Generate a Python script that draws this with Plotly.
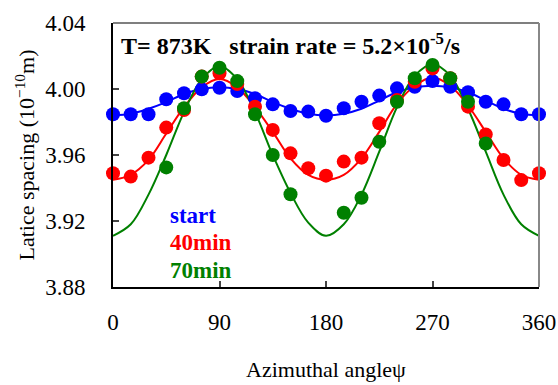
import plotly.graph_objects as go

# Measured data points (azimuthal angle, lattice spacing)
angle_pts = [0, 15, 30, 45, 60, 75, 90, 105, 120, 135, 150, 165, 180,
             195, 210, 225, 240, 255, 270, 285, 300, 315, 330, 345, 360]
start_pts = [3.9847, 3.9847, 3.9847, 3.9938, 3.9974, 3.9998, 4.0008, 3.9988, 3.9944,
             3.9907, 3.9867, 3.9863, 3.9838, 3.9883, 3.9923, 3.9960, 4.0004, 4.0014,
             4.0048, 4.0014, 3.9980, 3.9923, 3.9907, 3.9847, 3.9847]
min40_pts = [3.9489, 3.9469, 3.9584, 3.9766, 3.9873, 4.0075, 4.0095, 4.0030, 3.9893,
             3.9752, 3.9610, 3.9520, 3.9475, 3.9560, 3.9584, 3.9792, 3.9933, 4.0044,
             4.0125, 4.0065, 3.9893, 3.9725, 3.9570, 3.9448, 3.9489]
angle_g = [45, 60, 75, 90, 105, 120, 135, 150, 195, 210, 225, 240, 255, 270, 285, 300, 315]
min70_pts = [3.9525, 3.9883, 4.0075, 4.0129, 4.0048, 3.9847, 3.9600, 3.9362, 3.9250,
             3.9341, 3.9680, 3.9923, 4.0065, 4.0145, 4.0065, 3.9923, 3.9670]

# Fitted curves
angle_fit = [0, 15, 30, 45, 60, 75, 90, 105, 120, 135, 150, 165, 180,
             195, 210, 225, 240, 255, 270, 285, 300, 315, 330, 345, 360]
start_fit = [3.984, 3.985, 3.988, 3.992, 3.997, 4.000, 4.001, 4.000, 3.997, 3.992,
             3.988, 3.985, 3.984, 3.985, 3.988, 3.993, 3.998, 4.001, 4.002, 4.001,
             3.998, 3.993, 3.988, 3.985, 3.984]
min40_fit = [3.945, 3.948, 3.957, 3.973, 3.989, 4.001, 4.006, 4.001, 3.989, 3.974,
             3.958, 3.948, 3.945, 3.948, 3.958, 3.974, 3.991, 4.002, 4.007, 4.002,
             3.990, 3.974, 3.958, 3.948, 3.945]
min70_fit = [3.911, 3.918, 3.936, 3.960, 3.986, 4.006, 4.014, 4.006, 3.986, 3.960,
             3.937, 3.919, 3.911, 3.918, 3.936, 3.962, 3.989, 4.008, 4.015, 4.008,
             3.988, 3.962, 3.936, 3.918, 3.911]

x_ticks = [0, 90, 180, 270, 360]
y_ticks = [3.88, 3.92, 3.96, 4.00, 4.04]

BLUE = "#0000ff"
RED = "#ff0000"
GREEN = "#008000"
FONT = "Liberation Serif, Times New Roman, serif"

fig = go.Figure()
for xs, ys, c in [(angle_fit, start_fit, BLUE), (angle_fit, min40_fit, RED), (angle_fit, min70_fit, GREEN)]:
    fig.add_trace(go.Scatter(x=xs, y=ys, mode="lines", line=dict(color=c, width=2, shape="spline"),
                             showlegend=False, hoverinfo="skip"))
for xs, ys, c in [(angle_pts, start_pts, BLUE), (angle_pts, min40_pts, RED), (angle_g, min70_pts, GREEN)]:
    fig.add_trace(go.Scatter(x=xs, y=ys, mode="markers", marker=dict(color=c, size=14),
                             cliponaxis=False, showlegend=False))

fig.update_layout(
    width=558, height=385,
    margin=dict(l=113, r=19, t=23, b=98),
    paper_bgcolor="white", plot_bgcolor="white",
    font=dict(family=FONT, size=23, color="black"),
    xaxis=dict(range=[0, 360], tickvals=x_ticks, ticks="inside", ticklen=6, tickwidth=1.5,
               showline=True, linecolor="black", linewidth=2, showgrid=False, zeroline=False,
               ticklabelstandoff=13, automargin=False,
               title=dict(text="Azimuthal angleψ", font=dict(size=22), standoff=28)),
    yaxis=dict(range=[3.88, 4.04], tickvals=y_ticks, tickformat=".2f", ticks="inside", ticklen=6,
               tickwidth=1.5, showline=True, linecolor="black", linewidth=2, showgrid=False,
               zeroline=False, ticklabelstandoff=21, automargin=False,
               title=dict(text="Latice spacing (10<sup>−10</sup>m)", font=dict(size=22), standoff=4)),
    shapes=[
        dict(type="line", xref="paper", yref="paper", x0=0, x1=1, y0=1, y1=1,
             line=dict(color="#555555", width=1.5)),
        dict(type="line", xref="paper", yref="paper", x0=1, x1=1, y0=0, y1=1,
             line=dict(color="#888888", width=2)),
    ],
    annotations=[
        dict(xref="paper", yref="paper", x=0.015, y=0.985, xanchor="left", yanchor="top",
             text="<b>T= 873K   strain rate = 5.2×10<sup>-5</sup>/s</b>", showarrow=False,
             font=dict(size=24, color="black")),
        dict(xref="paper", yref="paper", x=0.13, y=0.269, xanchor="left", yanchor="middle",
             text="<b>start</b>", showarrow=False, font=dict(size=23, color=BLUE)),
        dict(xref="paper", yref="paper", x=0.13, y=0.170, xanchor="left", yanchor="middle",
             text="<b>40min</b>", showarrow=False, font=dict(size=23, color=RED)),
        dict(xref="paper", yref="paper", x=0.13, y=0.063, xanchor="left", yanchor="middle",
             text="<b>70min</b>", showarrow=False, font=dict(size=23, color=GREEN)),
    ],
)

fig.write_html("out.html", config={"displayModeBar": False},
               post_script="document.body.style.margin='0';document.body.style.padding='0';")
